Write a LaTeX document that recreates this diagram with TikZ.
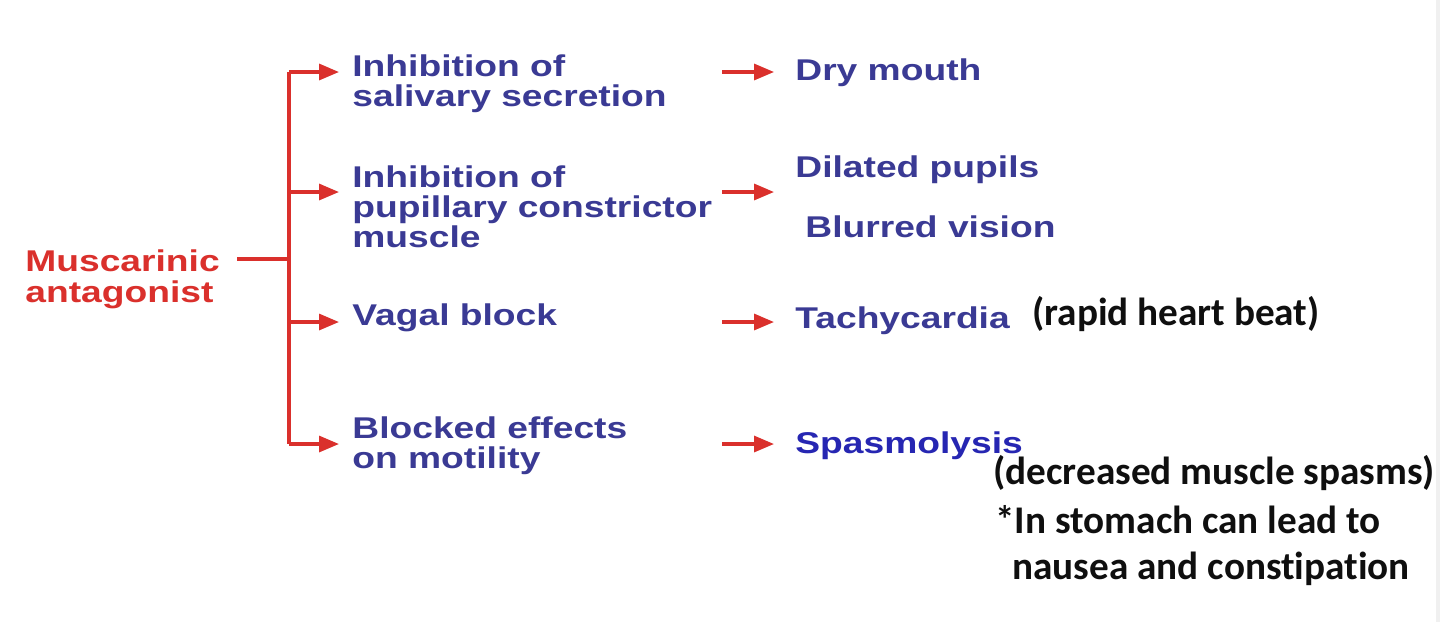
\documentclass[tikz,border=0pt]{standalone}
\usepackage{fontspec}
\usetikzlibrary{arrows.meta}
\newfontfamily\arialb{Liberation Sans}[FakeStretch=1.24]
\newfontfamily\calib{Carlito}[Ligatures=NoCommon]
\definecolor{myred}{RGB}{218,48,44}
\definecolor{myblue}{RGB}{58,58,148}
\definecolor{spblue}{RGB}{38,38,178}
\definecolor{myblack}{RGB}{15,15,15}
\tikzset{
  redtxt/.style={anchor=base west,inner sep=0pt,text=myred,font=\arialb\bfseries\fontsize{15}{15}\selectfont},
  bluetxt/.style={anchor=base west,inner sep=0pt,text=myblue,font=\arialb\bfseries\fontsize{15}{15}\selectfont},
  notetxt/.style={anchor=base west,inner sep=0pt,text=myblack,font=\calib\bfseries\fontsize{19.6}{20}\selectfont},
  redline/.style={draw=myred,line width=1.6pt},
  arr/.style={redline,-{Triangle[length=10pt,width=8pt]}}
}
\begin{document}
\begin{tikzpicture}[x=0.5pt,y=-0.5pt]
\useasboundingbox (0,0) rectangle (1440,622);
\fill[white] (0,0) rectangle (1440,622);
\fill[gray!12] (1436,0) rectangle (1440,622);

% source
\node[redtxt] (m1) at (25,271) {Muscarinic};
\node[redtxt] (m2) at (25,302) {antagonist};

% first column
\node[bluetxt] (a1) at (352,76) {Inhibition of};
\node[bluetxt] (a2) at (352,106) {salivary secretion};
\node[bluetxt] (b1) at (352,187) {Inhibition of};
\node[bluetxt] (b2) at (352,217) {pupillary constrictor};
\node[bluetxt] (b3) at (352,247) {muscle};
\node[bluetxt] (c1) at (352,325) {Vagal block};
\node[bluetxt] (d1) at (352,438) {Blocked effects};
\node[bluetxt] (d2) at (352,468) {on motility};

% second column
\node[bluetxt] (e1) at (795,80) {Dry mouth};
\node[bluetxt] (f1) at (795,177) {Dilated pupils};
\node[bluetxt] (f2) at (805,237) {Blurred vision};
\node[bluetxt] (g1) at (795,328) {Tachycardia};
\node[bluetxt,text=spblue] (h1) at (795,453) {Spasmolysis};

% notes
\node[notetxt] (n1) at (1032,325) {(rapid heart beat)};
\node[notetxt] (n2) at (993,484) {(decreased muscle spasms)};
\node[notetxt] (n3) at (995,533) {*In stomach can lead to};
\node[notetxt] (n4) at (1012,579) {nausea and constipation};

% connector coordinates
\coordinate (ms) at (237,259);
\coordinate (jn) at (289,259);
\coordinate (t1) at (289,72);
\coordinate (t2) at (289,192);
\coordinate (t3) at (289,322);
\coordinate (t4) at (289,444);
\coordinate (p1) at (339,72);
\coordinate (p2) at (339,192);
\coordinate (p3) at (339,322);
\coordinate (p4) at (339,444);
\coordinate (q1s) at (722,72);
\coordinate (q2s) at (722,192);
\coordinate (q3s) at (722,322);
\coordinate (q4s) at (722,444);
\coordinate (q1) at (774,72);
\coordinate (q2) at (774,192);
\coordinate (q3) at (774,322);
\coordinate (q4) at (774,444);

\draw[redline] (ms) -- (jn);
\draw[redline] (t1) -- (t4);
\draw[arr] (t1) -- (p1);
\draw[arr] (t2) -- (p2);
\draw[arr] (t3) -- (p3);
\draw[arr] (t4) -- (p4);
\draw[arr] (q1s) -- (q1);
\draw[arr] (q2s) -- (q2);
\draw[arr] (q3s) -- (q3);
\draw[arr] (q4s) -- (q4);
\end{tikzpicture}
\end{document}
